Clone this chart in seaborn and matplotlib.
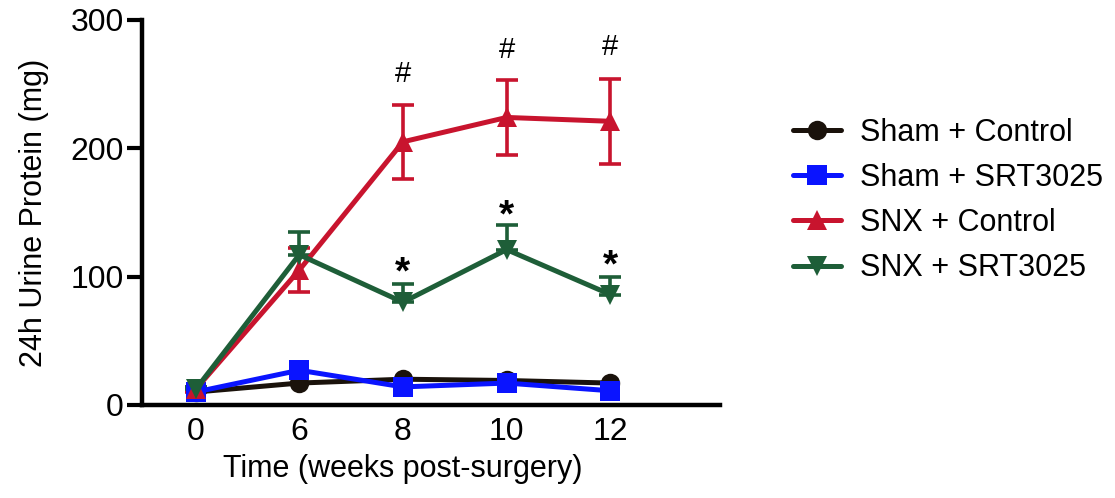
import numpy as np
import pandas as pd
import matplotlib
matplotlib.use("Agg")
import matplotlib.pyplot as plt
import seaborn as sns

# Weeks after surgery (plotted as evenly spaced categories)
weeks = ["0", "6", "8", "10", "12"]
groups = ["Sham + Control", "Sham + SRT3025", "SNX + Control", "SNX + SRT3025"]

sham_control = [10, 17, 20, 19, 17]
sham_srt = [10, 27, 14, 17, 11]
snx_control = [12, 105, 205, 224, 221]
snx_srt = [12, 117, 80, 121, 86]

snx_control_sem = [2, 17, 29, 29, 33]
snx_srt_sem = [2, 18, 14, 19, 14]

# significance marks: (label, week index, height)
hash_marks = [("#", 2, 247), ("#", 3, 266), ("#", 4, 268)]
star_marks = [("*", 2, 88), ("*", 3, 133), ("*", 4, 94)]

colors = ["#1a120b", "#0a14ff", "#c8142e", "#1e5e38"]
markers = ["o", "s", "^", "v"]

series = [sham_control, sham_srt, snx_control, snx_srt]
rows = []
for g, vals in zip(groups, series):
    for i, (w, v) in enumerate(zip(weeks, vals)):
        rows.append({"group": g, "pos": i, "week": w, "protein": v})
df = pd.DataFrame(rows)

sns.set_style("ticks")
plt.rcParams["font.family"] = ["Liberation Sans", "DejaVu Sans"]
plt.rcParams["text.color"] = "black"
plt.rcParams["axes.labelcolor"] = "black"
plt.rcParams["xtick.color"] = "black"
plt.rcParams["ytick.color"] = "black"

fig = plt.figure(figsize=(11.15, 4.98), dpi=100)
ax = fig.add_axes([0.127, 0.187, 0.519, 0.773])

# error bars drawn beneath the lines
ax.errorbar(range(len(weeks)), snx_control, yerr=snx_control_sem, fmt="none",
            ecolor=colors[2], elinewidth=2.6, capsize=8, capthick=2.6, zorder=2)
ax.errorbar(range(len(weeks)), snx_srt,
            yerr=[np.zeros(len(weeks)), snx_srt_sem], fmt="none",
            ecolor=colors[3], elinewidth=2.6, capsize=8, capthick=2.6, zorder=2)

for i, g in enumerate(groups):
    sub = df[df["group"] == g]
    sns.lineplot(data=sub, x="pos", y="protein", ax=ax, color=colors[i],
                 marker=markers[i], markersize=14, markeredgewidth=0,
                 linewidth=3.6, label=g, zorder=3 + i)

for lab, i, y in hash_marks:
    ax.text(i, y, lab, ha="center", va="bottom", fontsize=21, color="black")
for lab, i, y in star_marks:
    ax.text(i, y, lab, ha="center", va="bottom", fontsize=28,
            fontweight="bold", color="black")

ax.set_xlim(-0.52, 5.06)
ax.set_ylim(0, 300)
ax.set_xticks(range(len(weeks)))
ax.set_xticklabels(weeks)
ax.set_yticks([0, 100, 200, 300])
ax.tick_params(axis="y", length=11, width=3, labelsize=23, pad=2)
ax.tick_params(axis="x", length=0, labelsize=23, pad=9)
for s in ["left", "bottom"]:
    ax.spines[s].set_linewidth(3.2)
    ax.spines[s].set_color("black")
sns.despine(ax=ax)

ax.set_xlabel("Time (weeks post-surgery)", fontsize=22, labelpad=5)
ax.xaxis.label.set_x(0.452)
ax.set_ylabel("24h Urine Protein (mg)", fontsize=22, labelpad=15)

leg = ax.legend(loc="center left", bbox_to_anchor=(1.126, 0.531), frameon=False,
                fontsize=22, handlelength=1.55, handletextpad=0.65,
                labelspacing=0.5, borderpad=0, borderaxespad=0)

fig.savefig("out.png", dpi=100)
